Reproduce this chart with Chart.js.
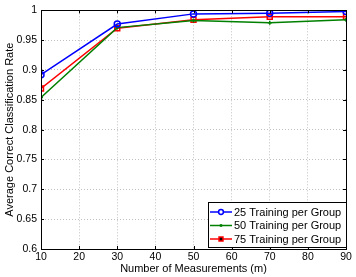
<!DOCTYPE html>
<html>
<head>
<meta charset="utf-8">
<script src="https://cdn.jsdelivr.net/npm/chart.js@4"></script>
<style>
  html, body { margin: 0; padding: 0; background: #fff; }
  #wrap { width: 356px; height: 277px; }
</style>
</head>
<body>
<div id="wrap"><canvas id="chart" width="356" height="277"></canvas></div>
<script>
// data
const measurements = [10, 30, 50, 70, 90];
const seriesNames = ['25 Training per Group', '50 Training per Group', '75 Training per Group'];
const rate25 = [0.892, 0.977, 0.994, 0.995, 0.998];
const rate50 = [0.854, 0.971, 0.983, 0.979, 0.984];
const rate75 = [0.869, 0.970, 0.984, 0.989, 0.989];
const xTicks = [10, 20, 30, 40, 50, 60, 70, 80, 90];
const yTicks = [0.6, 0.65, 0.7, 0.75, 0.8, 0.85, 0.9, 0.95, 1];

const FONT = 'Liberation Sans, Arial, Helvetica, sans-serif';
Chart.defaults.font.family = FONT;
Chart.defaults.font.size = 11;
Chart.defaults.color = '#000';

function toPoints(vals) {
  return measurements.map(function(m, i) { return { x: m, y: vals[i] }; });
}

// box frame, inward ticks and legend, drawn like matlab does
const matlabFrame = {
  id: 'matlabFrame',
  afterDraw: function(chart) {
    const ctx = chart.ctx;
    const a = chart.chartArea;
    const xs = chart.scales.x, ys = chart.scales.y;
    ctx.save();
    ctx.strokeStyle = '#000';
    ctx.lineWidth = 1;
    ctx.strokeRect(Math.round(a.left) + 0.5, Math.round(a.top) + 0.5,
                   Math.round(a.right - a.left), Math.round(a.bottom - a.top));
    ctx.beginPath();
    xTicks.forEach(function(t) {
      const px = Math.round(xs.getPixelForValue(t)) + 0.5;
      ctx.moveTo(px, a.bottom); ctx.lineTo(px, a.bottom - 3);
      ctx.moveTo(px, a.top); ctx.lineTo(px, a.top + 3);
    });
    yTicks.forEach(function(t) {
      const py = Math.round(ys.getPixelForValue(t)) + 0.5;
      ctx.moveTo(a.left, py); ctx.lineTo(a.left + 3, py);
      ctx.moveTo(a.right, py); ctx.lineTo(a.right - 3, py);
    });
    ctx.stroke();

    // legend
    const lx = 208, ly = 202, lw = 138, lh = 45;
    ctx.fillStyle = '#fff';
    ctx.fillRect(lx, ly, lw, lh);
    ctx.strokeRect(lx + 0.5, ly + 0.5, lw, lh);
    chart.data.datasets.forEach(function(ds, i) {
      const ry = ly + 10 + i * 13.5;
      ctx.strokeStyle = ds.borderColor;
      ctx.lineWidth = 1.5;
      ctx.beginPath();
      ctx.moveTo(lx + 2, ry); ctx.lineTo(lx + 24, ry);
      ctx.stroke();
      Chart.helpers.drawPoint(ctx, {
        pointStyle: ds.pointStyle, radius: ds.pointRadius * 0.8, borderWidth: 1.5, rotation: 0
      }, lx + 13, ry);
      ctx.fillStyle = '#000';
      ctx.font = '11px ' + FONT;
      ctx.textBaseline = 'middle';
      ctx.textAlign = 'left';
      ctx.fillText(ds.label, lx + 26, ry + 0.5);
    });
    ctx.restore();
  }
};

new Chart(document.getElementById('chart'), {
  type: 'line',
  data: {
    datasets: [
      { label: seriesNames[0], data: toPoints(rate25), borderColor: '#0000ff',
        pointStyle: 'circle', pointRadius: 3 },
      { label: seriesNames[1], data: toPoints(rate50), borderColor: '#008000',
        pointStyle: 'cross', pointRadius: 2 },
      { label: seriesNames[2], data: toPoints(rate75), borderColor: '#ff0000',
        pointStyle: 'rect', pointRadius: 3.5 }
    ].map(function(ds) {
      return Object.assign(ds, {
        borderWidth: 1.5,
        pointBorderColor: ds.borderColor,
        pointBackgroundColor: 'rgba(0,0,0,0)',
        pointBorderWidth: 1.5,
        tension: 0,
        fill: false
      });
    })
  },
  options: {
    responsive: false,
    animation: false,
    devicePixelRatio: 1,
    layout: { padding: { top: 8, right: 10, left: 0, bottom: 0 } },
    plugins: { legend: { display: false }, tooltip: { enabled: false } },
    scales: {
      x: {
        type: 'linear', min: 10, max: 90,
        afterBuildTicks: function(s) { s.ticks = xTicks.map(function(v) { return { value: v }; }); },
        afterFit: function(s) { s.height = 28; },
        grid: { color: '#c0c0c0', drawTicks: false, lineWidth: 1 },
        border: { display: true, color: '#000', dash: [1, 2] },
        ticks: { padding: 2, maxRotation: 0, autoSkip: false, font: { size: 10.5 } },
        title: { display: true, text: 'Number of Measurements (m)', padding: { top: 0, bottom: 1 }, font: { size: 11 } }
      },
      y: {
        type: 'linear', min: 0.6, max: 1,
        afterBuildTicks: function(s) { s.ticks = yTicks.map(function(v) { return { value: v }; }); },
        afterFit: function(s) { s.width = 41; },
        grid: { color: '#c0c0c0', drawTicks: false, lineWidth: 1 },
        border: { display: true, color: '#000', dash: [1, 2] },
        ticks: {
          padding: 4, autoSkip: false, font: { size: 10.5 },
          callback: function(v) { return String(Number(v.toFixed(2))); }
        },
        title: { display: true, text: 'Average Correct Classification Rate', padding: { top: 3, bottom: 0 }, font: { size: 11 } }
      }
    }
  },
  plugins: [matlabFrame]
});
</script>
</body>
</html>
